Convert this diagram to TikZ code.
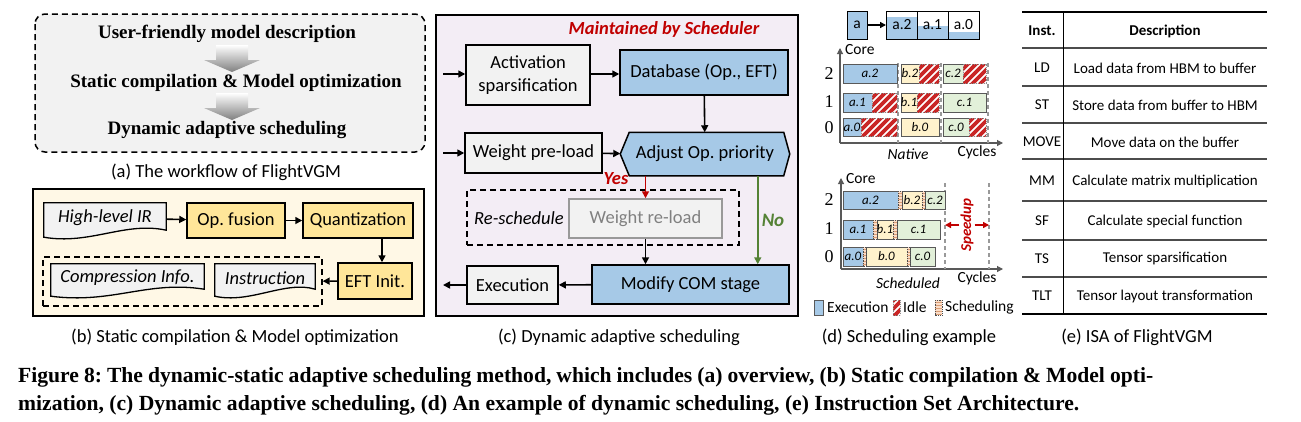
\documentclass[tikz,border=0pt]{standalone}
\usepackage{fontspec}
\setmainfont{Carlito}
\newfontfamily\serifb{Liberation Serif}
\usetikzlibrary{arrows.meta,positioning,calc}
\frenchspacing

\definecolor{boxgray}{HTML}{F2F2F2}
\definecolor{cream}{HTML}{FFF8E6}
\definecolor{fuseyellow}{HTML}{FFE699}
\definecolor{lavender}{HTML}{F3EDF5}
\definecolor{opblue}{HTML}{A6C9E7}
\definecolor{lightyellow}{HTML}{FFF2CC}
\definecolor{lightgreen}{HTML}{E2F0D9}
\definecolor{schedred}{HTML}{C00000}
\definecolor{nogreen}{HTML}{548235}
\definecolor{schedorange}{HTML}{F4B183}
\definecolor{axisgray}{HTML}{595959}

\pgfdeclarelayer{panel}
\pgfdeclarelayer{bg}
\pgfsetlayers{panel,bg,main}

\newcommand{\fsz}[1]{\fontsize{#1}{#1}\selectfont}

\tikzset{
  arr/.style={-{Triangle[length=7pt,width=7pt]}, line width=1.6pt},
  opbox/.style={draw, line width=1.5pt, inner sep=1pt, font=\fsz{18.5}},
  graybox/.style={opbox, fill=boxgray},
  yellowbox/.style={opbox, fill=fuseyellow},
  bluebox/.style={opbox, fill=opblue},
  doctext/.style={inner sep=1pt, font=\fsz{18.5}\itshape},
  subcap/.style={font=\fsz{18.5}},
  flowtext/.style={font=\serifb\bfseries\fsz{19}},
  chart/.style={font=\fsz{15.5}},
  rowlabel/.style={font=\serifb\fsz{18}},
  barlabel/.style={font=\fsz{13}\itshape, inner sep=0pt},
  bar/.style={draw=black!65, line width=0.7pt},
  axis/.style={-{Triangle[length=6pt,width=6pt]}, line width=1.1pt, axisgray},
  guide/.style={dash pattern=on 4pt off 3pt, line width=1.1pt, black!40},
  spdarr/.style={-{Triangle[length=6pt,width=6pt]}, line width=1.6pt, schedred},
  rule/.style={line width=1.2pt, black!70},
  cell/.style={font=\fsz{15}},
}

% document outline below a node
\newcommand{\docoutline}[1]{%
  \begin{pgfonlayer}{bg}
    \draw[line width=1.3pt, fill=boxgray] (#1.north west) -- (#1.north east)
      -- ($(#1.south east)+(0,-3)$)
      .. controls ($(#1.south)+(20,-12)$) and ($(#1.south)+(-15,12)$) .. ($(#1.south west)+(0,4)$) -- cycle;
  \end{pgfonlayer}}

% idle slot, red stripes
\newcommand{\idlebar}[4]{%
  \begin{scope}
    \clip (#1,#2) rectangle (#3,#4);
    \fill[white] (#1,#2) rectangle (#3,#4);
    \foreach \k in {0,8,...,88}
      \draw[line width=3.6pt, schedred!85] ({#1-24+\k},{#4+2}) -- ++(26,-26);
  \end{scope}
  \draw[black!45, densely dotted, line width=0.9pt] (#1,#2) rectangle (#3,#4);}

% scheduling slot, orange stripes
\newcommand{\schedbar}[4]{%
  \begin{scope}
    \clip (#1,#2) rectangle (#3,#4);
    \fill[schedorange!45] (#1,#2) rectangle (#3,#4);
    \foreach \k in {2,5,...,20}
      \draw[schedorange!90!black, line width=1pt] (#1,{#2+\k}) -- (#3,{#2+\k});
  \end{scope}
  \draw[black!70, densely dotted, line width=0.8pt] (#1,#2) rectangle (#3,#4);}

\begin{document}
\begin{tikzpicture}[x=1pt,y=-1pt]
  \useasboundingbox (0,0) rectangle (1301,421);
  \begin{pgfonlayer}{panel}
    \fill[white] (0,0) rectangle (1301,421);
    \draw[line width=1.5pt, dash pattern=on 6pt off 4pt, rounded corners=10pt, fill=boxgray] (35,14) rectangle (425,152);
    \draw[line width=1.5pt, fill=cream] (33,189) rectangle (424,316);
    \draw[line width=1.5pt, fill=lavender] (436,15) rectangle (798,316);
  \end{pgfonlayer}

  % (a) workflow
  \node[flowtext] (ua) at (227,34) {User-friendly model description};
  \node[flowtext] (sa) at (236,83) {Static compilation \& Model optimization};
  \node[flowtext] (da) at (227,130) {Dynamic adaptive scheduling};
  \foreach \t in {45,93}
    \shade[top color=white, bottom color=black!50] (216,\t) -- (248,\t) -- (248,\t+15) -- (260,\t+15) -- (232,\t+27) -- (204,\t+15) -- (216,\t+15) -- cycle;
  \node[subcap] (capa) at (226,172) {(a) The workflow of FlightVGM};

  % (b) static compilation
  \node[doctext, minimum width=122pt, minimum height=30pt] (ir) at (105,218) {High-level IR};
  \docoutline{ir}
  \node[yellowbox, minimum width=98pt, minimum height=35pt] (fus) at (236,220.5) {Op. fusion};
  \node[yellowbox, minimum width=110pt, minimum height=35pt] (quant) at (358,220.5) {Quantization};
  \node[yellowbox, minimum width=74pt, minimum height=36pt] (eft) at (375,281) {EFT Init.};
  \node[draw, line width=1.4pt, dash pattern=on 6pt off 4pt, minimum width=279pt, minimum height=49pt] (store) at (182.5,281.5) {};
  \node[doctext, minimum width=153pt, minimum height=28pt] (cinfo) at (127.5,278) {Compression Info.};
  \docoutline{cinfo}
  \node[doctext, minimum width=100pt, minimum height=28pt] (instr) at (265,278) {Instruction};
  \docoutline{instr}
  \path ($(eft.north)+(7,0)$) coordinate (eftin);
  \draw[arr] (ir) -- (fus);
  \draw[arr] (fus) -- (quant);
  \draw[arr] (eftin |- quant.south) -- (eftin);
  \draw[arr] (eft) -- (store);
  \node[subcap] (capb) at (235,337) {(b) Static compilation \& Model optimization};

  % (c) dynamic scheduling
  \node[font=\fsz{18.5}\bfseries\itshape, text=schedred] (maint) at (664,29) {Maintained by Scheduler};
  \node[graybox, minimum width=124pt, minimum height=60pt, align=center, font=\fontsize{18.5}{23}\selectfont] (act) at (528,75) {Activation\\sparsification};
  \node[bluebox, minimum width=168pt, minimum height=45pt] (db) at (704,72.5) {Database (Op., EFT)};
  \node[graybox, minimum width=137pt, minimum height=40pt] (wpl) at (533.5,153) {Weight pre-load};
  \node[opbox, draw=none, minimum width=168pt, minimum height=42pt] (adj) at (705,154) {Adjust Op. priority};
  \begin{pgfonlayer}{bg}
    \draw[line width=1.5pt, fill=opblue] (adj.west) -- ($(adj.north west)+(9,0)$) -- ($(adj.north east)+(-6,0)$) -- (adj.east) -- ($(adj.south east)+(-6,0)$) -- ($(adj.south west)+(9,0)$) -- cycle;
  \end{pgfonlayer}
  \node[draw, line width=1.4pt, dash pattern=on 6pt off 4pt, minimum width=272pt, minimum height=55pt] (resch) at (603,217.5) {};
  \node[font=\fsz{18.5}\itshape] (reschlab) at (519,218) {Re-schedule};
  \node[graybox, draw=black!40, text=black!50, minimum width=153pt, minimum height=39pt] (wrl) at (645.5,218.5) {Weight re-load};
  \node[bluebox, minimum width=197pt, minimum height=39pt] (mod) at (690.5,284.5) {Modify COM stage};
  \node[graybox, minimum width=91pt, minimum height=38pt] (exe) at (512.5,285) {Execution};
  \coordinate (in1) at (443,74);
  \coordinate (in2) at (443,153);
  \coordinate (out1) at (443,285);
  \path ($(mod.north east)+(-32,0)$) coordinate (nox);
  \draw[arr] (in1) -- (in1 -| act.west);
  \draw[arr] (act.east |- in1) -- (in1 -| db.west);
  \draw[arr] (db) -- (adj);
  \draw[arr] (in2) -- (wpl);
  \draw[arr] (wpl) -- (adj);
  \draw[arr, schedred] (wrl.north |- adj.south) -- (wrl.north);
  \node[font=\fsz{18.5}\bfseries\itshape, text=schedred] (yes) at (616,179) {Yes};
  \draw[arr, nogreen] (nox |- adj.south) -- (nox);
  \node[font=\fsz{19}\bfseries\itshape, text=nogreen] (no) at (773,220) {No};
  \draw[arr] (wrl) -- (wrl.south |- mod.north);
  \draw[arr] (mod) -- (exe);
  \draw[arr] (exe) -- (out1);
  \node[subcap] (capc) at (619,337) {(c) Dynamic adaptive scheduling};

  % (d) scheduling example: queue
  \node[draw, line width=1pt, fill=opblue, minimum width=20pt, minimum height=28pt, inner sep=0pt, chart] (qa) at (857,25) {a};
  \foreach \nm/\xa/\xb/\lev/\lab in {q2/887/917/17/a.2, q1/917/948/26/a.1, q0/948/979/32/a.0} {
    \fill[opblue] (\xa,\lev) rectangle (\xb,39);
    \node[draw, line width=1pt, minimum width=31pt, minimum height=28pt, inner sep=0pt, chart] (\nm) at ({(\xa+\xb)/2},25) {\lab};
  }
  \draw[-{Triangle[length=6pt,width=6pt]}, line width=1.4pt] (qa) -- (q2);

  % (d) native
  \coordinate (no0) at (840,143);
  \draw[axis] (no0) -- ++(0,-95);
  \draw[axis] (no0) -- ++(163,0);
  \node[chart, anchor=west, inner sep=0pt] (ncore) at (845,50) {Core};
  \node[chart] (ncyc) at (977,152) {Cycles};
  \node[font=\fsz{15.5}\itshape] (nname) at (908,154) {Native};
  \foreach \x in {898,941,988}
    \draw[guide] (\x,63) -- (\x,143);
  \foreach \r/\y in {2/74,1/102,0/128}
    \node[rowlabel] (nr\r) at (829,\y) {\r};
  \foreach \xa/\xb/\ya/\yb/\c/\lab/\nm in {
      843/897/64/83/opblue/a.2/na2, 901/919/64/83/lightyellow/b.2/nb2, 943/963/64/83/lightgreen/c.2/nc2,
      843/872/93/112/opblue/a.1/na1, 901/917/93/112/lightyellow/b.1/nb1, 943/986/93/112/lightgreen/c.1/nc1,
      843/861/118/136/opblue/a.0/na0, 901/939/118/136/lightyellow/b.0/nb0, 943/969/118/136/lightgreen/c.0/nc0} {
    \draw[bar, fill=\c] (\xa,\ya) rectangle (\xb,\yb);
    \node[barlabel] (\nm) at ({(\xa+\xb)/2},{(\ya+\yb)/2}) {\lab};
  }
  \foreach \xa/\xb/\ya/\yb in {919/939/64/83, 963/986/64/83, 872/897/93/112, 917/939/93/112, 861/897/118/136, 969/986/118/136}
    {\idlebar{\xa}{\ya}{\xb}{\yb}}

  % (d) scheduled
  \coordinate (so0) at (841,269);
  \draw[axis] (so0) -- ++(0,-91);
  \draw[axis] (so0) -- ++(162,0);
  \node[chart, anchor=west, inner sep=0pt] (score) at (846,179) {Core};
  \node[chart] (scyc) at (977,278) {Cycles};
  \node[font=\fsz{15.5}\itshape] (sname) at (908,283) {Scheduled};
  \coordinate (gl1) at (945,183);
  \coordinate (gl2) at (989,183);
  \draw[guide] (gl1) -- ++(0,86);
  \draw[guide] (gl2) -- ++(0,86);
  \foreach \r/\y in {2/200,1/229,0/257}
    \node[rowlabel] (sr\r) at (829,\y) {\r};
  \foreach \xa/\xb/\ya/\yb/\c/\lab/\nm in {
      843/898/191/209/opblue/a.2/sa2, 902/922/191/209/lightyellow/b.2/sb2, 925/945/191/209/lightgreen/c.2/sc2,
      843/873/220/239/opblue/a.1/sa1, 877/893/220/239/lightyellow/b.1/sb1, 897/940/220/239/lightgreen/c.1/sc1,
      843/863/247/266/opblue/a.0/sa0, 866/907/247/266/lightyellow/b.0/sb0, 910/935/247/266/lightgreen/c.0/sc0} {
    \draw[bar, fill=\c] (\xa,\ya) rectangle (\xb,\yb);
    \node[barlabel] (\nm) at ({(\xa+\xb)/2},{(\ya+\yb)/2}) {\lab};
  }
  \foreach \xa/\xb/\ya/\yb in {898/902/191/209, 922/925/191/209, 873/877/220/239, 893/897/220/239, 863/866/247/266, 907/910/247/266}
    {\schedbar{\xa}{\ya}{\xb}{\yb}}
  \node[rotate=90, font=\fsz{15}\bfseries\itshape, text=schedred, inner sep=1pt] (spd) at (967,225) {Speedup};
  \draw[spdarr] (spd.north) -- (spd.north -| gl1);
  \draw[spdarr] (spd.south) -- (spd.south -| gl2);

  % (d) legend
  \draw[bar, fill=opblue] (814,300) rectangle (823,315);
  \node[chart, anchor=west, inner sep=0pt] (lgexe) at (827,307.5) {Execution};
  \idlebar{893}{300}{900}{315}
  \node[chart, anchor=west, inner sep=0pt] (lgidle) at (903,307.5) {Idle};
  \schedbar{935}{300}{942}{315}
  \node[chart, anchor=west, inner sep=0pt] (lgsch) at (945,307.5) {Scheduling};
  \node[subcap] (capd) at (909,337) {(d) Scheduling example};

  % (e) ISA table
  \draw[line width=1.6pt] (1022,12) -- (1267,12);
  \foreach \y in {48,86,123,159,201,240,277}
    \draw[rule] (1022,\y) -- (1267,\y);
  \draw[line width=1.6pt] (1022,314) -- (1267,314);
  \draw[line width=1pt] (1063,12) -- (1063,314);
  \node[font=\fsz{15}\bfseries] (hinst) at (1042,31) {Inst.};
  \node[font=\fsz{15}\bfseries] (hdesc) at (1165,31) {Description};
  \foreach \nm/\y/\ins/\desc in {ld/68/LD/Load data from HBM to buffer, st/105/ST/Store data from buffer to HBM,
      mv/142/MOVE/Move data on the buffer, mm/181/MM/Calculate matrix multiplication,
      sf/221/SF/Calculate special function, ts/259/TS/Tensor sparsification, tlt/296/TLT/Tensor layout transformation} {
    \node[cell] (i\nm) at (1042,\y) {\ins};
    \node[cell] (d\nm) at (1165,\y) {\desc};
  }
  \node[subcap] (cape) at (1137,337) {(e) ISA of FlightVGM};

  % figure caption
  \node[anchor=north west, inner sep=0pt, text width=1135pt, align=justify,
        font=\serifb\bfseries\fontsize{21.6}{28}\selectfont] (figcap) at (18,367)
    {Figure 8: The dynamic-static adaptive scheduling method, which includes (a) overview, (b) Static compilation \& Model opti-\linebreak mization, (c) Dynamic adaptive scheduling, (d) An example of dynamic scheduling, (e) Instruction Set Architecture.};
\end{tikzpicture}
\end{document}
